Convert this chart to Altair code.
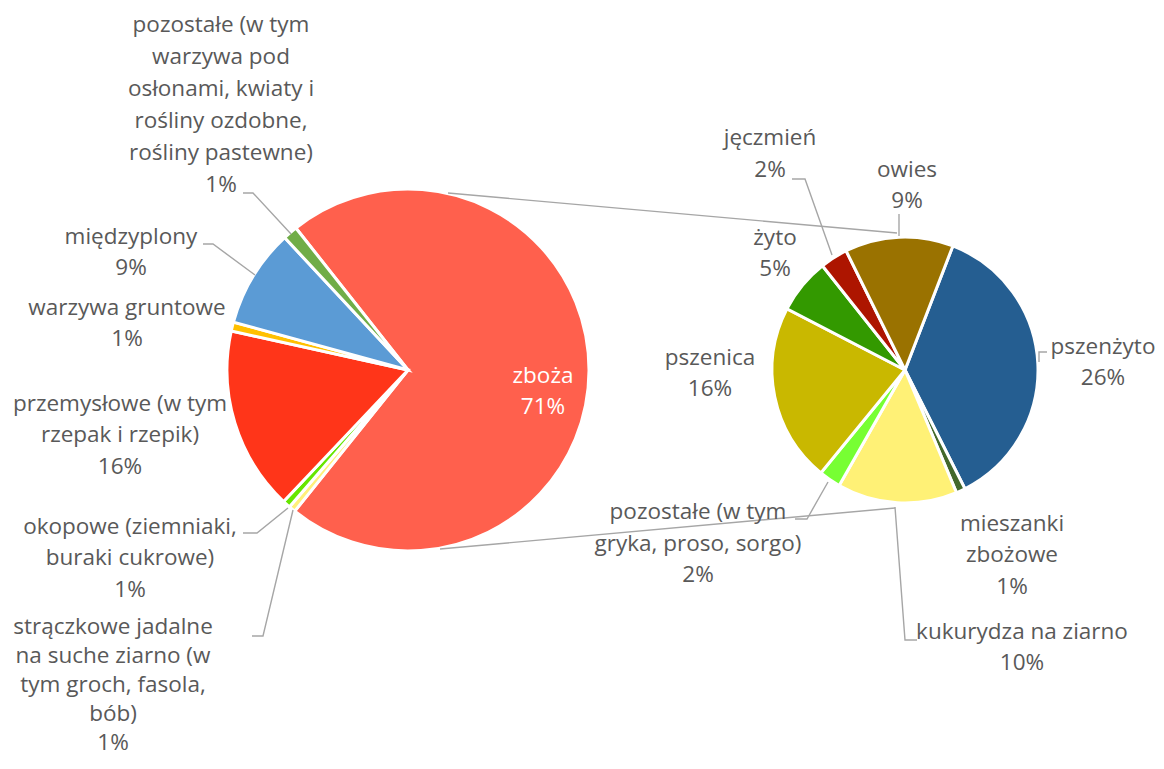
import math
import altair as alt
import pandas as pd

# ---------------- data ----------------
left_names = ["zboża", "strączkowe", "okopowe", "przemysłowe", "warzywa gruntowe", "międzyplony", "pozostałe"]
left_values = [71.4, 0.6, 0.7, 16.4, 0.8, 8.8, 1.3]
left_colors = ["#FF604D", "#FFF07A", "#66E600", "#FF3519", "#FFC000", "#5B9BD5", "#70AD47"]
left_label_lines = [
    ["zboża"],
    ["strączkowe jadalne", "na suche ziarno (w", "tym groch, fasola,", "bób)"],
    ["okopowe (ziemniaki,", "buraki cukrowe)"],
    ["przemysłowe (w tym", "rzepak i rzepik)"],
    ["warzywa gruntowe"],
    ["międzyplony"],
    ["pozostałe (w tym", "warzywa pod", "osłonami, kwiaty i", "rośliny ozdobne,", "rośliny pastewne)"],
]

right_names = ["pszenżyto", "mieszanki zbożowe", "kukurydza na ziarno", "pozostałe zboża", "pszenica", "żyto", "jęczmień", "owies"]
right_values = [26.2, 0.8, 10.4, 1.9, 15.5, 4.8, 2.4, 9.4]
right_colors = ["#255E91", "#43682B", "#FFF176", "#77FF33", "#C9B800", "#339900", "#AD1500", "#9A7200"]
right_label_lines = [
    ["pszenżyto"],
    ["mieszanki", "zbożowe"],
    ["kukurydza na ziarno"],
    ["pozostałe (w tym", "gryka, proso, sorgo)"],
    ["pszenica"],
    ["żyto"],
    ["jęczmień"],
    ["owies"],
]

# ---------------- layout (image pixel coords) ----------------
OFF = 8
W, H = 1148, 753
L_CX, L_CY, L_R, L_START = 408, 370, 181, -38.3
R_CX, R_CY, R_R, R_START = 905, 370, 133, 21.1
FONT_SIZE = 22.5

# (x center, y of first line, line step)
left_label_pos = [(543, 376, 30.5), (113, 627, 29.0), (130, 527, 31.3), (120, 404, 31.3),
                  (127, 308, 31.3), (131, 237, 31.3), (221, 25, 32.0)]
right_label_pos = [(1103, 347, 31.3), (1012, 524, 31.3), (1022, 632, 31.3), (698, 512, 31.5),
                   (710, 358, 31.3), (775, 238, 31.3), (770, 138, 32.0), (907, 170, 31.0)]

leader_lines = [
    [(448, 193), (897, 233)],
    [(440, 549), (895, 508)],
    [(243, 193), (253, 193), (291, 234)],
    [(203, 244), (213, 244), (255, 275)],
    [(243, 533), (257, 533), (288, 508)],
    [(252, 636), (263, 636), (293, 510)],
    [(792, 179), (805, 179), (832, 255)],
    [(899, 214), (899, 236)],
    [(1047, 352), (1039, 352), (1039, 362)],
    [(795, 519), (807, 519), (828, 482)],
    [(917, 640), (905, 640), (895, 507)],
]


def pct(v):
    return f"{int(v + 0.5)}%"


# ---------------- tables ----------------
left_df = pd.DataFrame({"name": left_names, "value": left_values, "idx": range(len(left_names))})
right_df = pd.DataFrame({"name": right_names, "value": right_values, "idx": range(len(right_names))})

text_rows = []
for i, (lines, (x, y, st), v) in enumerate(zip(left_label_lines, left_label_pos, left_values)):
    for j, t in enumerate(lines + [pct(v)]):
        text_rows.append({"x": x, "y": y + j * st, "t": t, "white": i == 0})
for lines, (x, y, st), v in zip(right_label_lines, right_label_pos, right_values):
    for j, t in enumerate(lines + [pct(v)]):
        text_rows.append({"x": x, "y": y + j * st, "t": t, "white": False})
text_df = pd.DataFrame(text_rows)

line_rows = []
for k, pts in enumerate(leader_lines):
    for s, (x, y) in enumerate(pts):
        line_rows.append({"id": k, "seq": s, "x": x, "y": y})
line_df = pd.DataFrame(line_rows)

xs = alt.Scale(domain=[OFF, OFF + W])
ys = alt.Scale(domain=[OFF, OFF + H], reverse=True)


def pie(df, colors, cx, cy, r, start_deg):
    a = math.radians(start_deg)
    return alt.Chart(df).mark_arc(radius=r, stroke="white", strokeWidth=3).encode(
        theta=alt.Theta("value:Q", stack=True, scale=alt.Scale(range=[a, a + 2 * math.pi])),
        color=alt.Color("name:N", scale=alt.Scale(domain=list(df["name"]), range=colors), legend=None),
        order=alt.Order("idx:Q"),
        x=alt.value(cx - OFF),
        y=alt.value(cy - OFF),
    )


left_pie = pie(left_df, left_colors, L_CX, L_CY, L_R, L_START)
right_pie = pie(right_df, right_colors, R_CX, R_CY, R_R, R_START)

lines_layer = alt.Chart(line_df).mark_line(color="#A6A6A6", strokeWidth=1.4).encode(
    x=alt.X("x:Q", scale=xs, axis=None),
    y=alt.Y("y:Q", scale=ys, axis=None),
    detail="id:N",
    order="seq:Q",
)

text_layer = alt.Chart(text_df).mark_text(
    font="Open Sans", fontSize=FONT_SIZE, align="center", baseline="middle"
).encode(
    x=alt.X("x:Q", scale=xs, axis=None),
    y=alt.Y("y:Q", scale=ys, axis=None),
    text="t:N",
    color=alt.condition("datum.white", alt.value("#FFFFFF"), alt.value("#595959")),
)

chart = alt.layer(left_pie, right_pie, lines_layer, text_layer).resolve_scale(
    theta="independent", color="independent"
).properties(
    width=W, height=H, autosize=alt.AutoSizeParams(type="none"), padding=0
).configure_view(stroke=None)

chart.save("out.html", embed_options={"renderer": "svg", "actions": False})
